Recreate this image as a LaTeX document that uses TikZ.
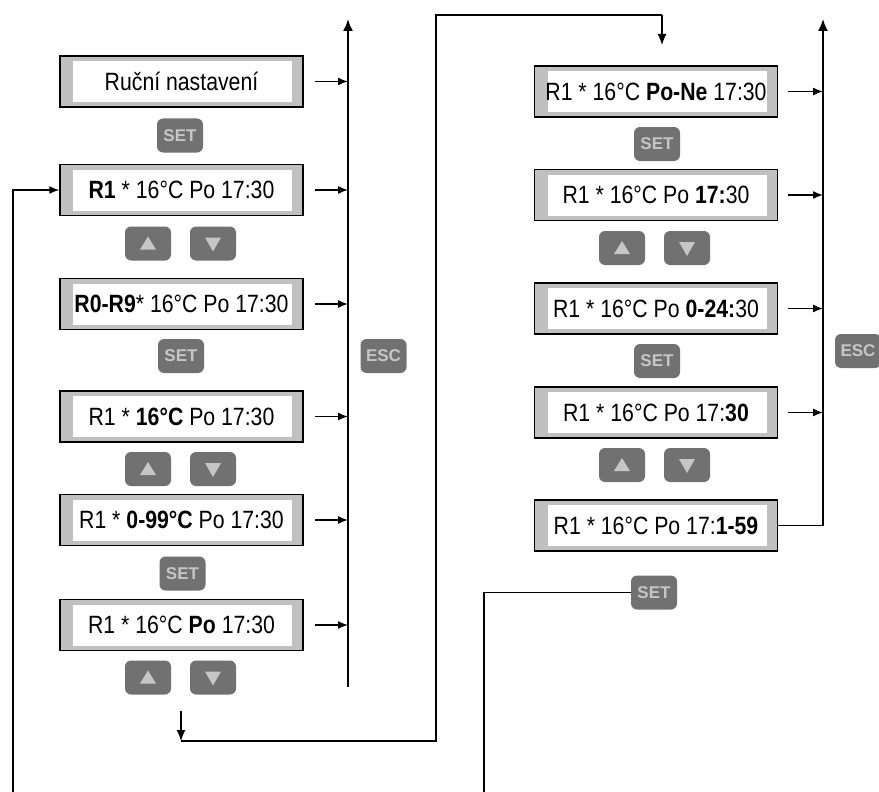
\documentclass[tikz,border=0pt]{standalone}
\usepackage{fontspec}
\setmainfont[FakeStretch=0.85]{Liberation Sans}
\newfontfamily\btnfont{Liberation Sans}
\usetikzlibrary{arrows.meta}
\definecolor{lcdgray}{HTML}{C0C0C0}
\definecolor{btnfill}{HTML}{717171}
\definecolor{btntext}{HTML}{C6C6C6}
\begin{document}
\begin{tikzpicture}[x=1pt,y=-1pt,
  lcd/.style={draw=black, line width=1.5pt, fill=lcdgray, minimum width=243pt,
    minimum height=51pt, inner sep=0pt, font=\fontsize{25}{30}\selectfont,
    path picture={\fill[white] ([xshift=13pt,yshift=-5pt]path picture bounding box.north west)
      rectangle ([xshift=-11pt,yshift=5pt]path picture bounding box.south east);}},
  btn/.style={fill=btnfill, rounded corners=6pt, minimum width=46pt, minimum height=34pt,
    inner sep=0pt, text=btntext, font=\btnfont\bfseries\fontsize{17}{20}\selectfont},
  btnup/.style={btn, path picture={\fill[btntext, sharp corners]
      ([xshift=-8pt,yshift=-6pt]path picture bounding box.center) --
      ([xshift=8pt,yshift=-6pt]path picture bounding box.center) --
      ([yshift=7pt]path picture bounding box.center) -- cycle;}},
  btndown/.style={btn, path picture={\fill[btntext, sharp corners]
      ([xshift=-8pt,yshift=6pt]path picture bounding box.center) --
      ([xshift=8pt,yshift=6pt]path picture bounding box.center) --
      ([yshift=-8pt]path picture bounding box.center) -- cycle;}},
  arr/.style={line width=1.4pt, -{Latex[length=10pt,width=8pt]}},
  escline/.style={line width=1.8pt, -{Latex[length=12pt,width=10pt]}},
  route/.style={line width=1.2pt},
  routearr/.style={line width=1.2pt, -{Latex[length=11pt,width=9pt]}}
]
\useasboundingbox (0,0) rectangle (879,792);

% left column
\node[lcd] (L0) at (181.5,81.5) {Ruční nastavení};
\node[btn] (S1) at (180,135.5) {SET};
\node[lcd] (L1) at (181.5,190) {\textbf{R1} * 16°C Po 17:30};
\node[btnup] (U1) at (148,243.5) {};
\node[btndown] (D1) at (213,243.5) {};
\node[lcd] (L2) at (181.5,304) {\textbf{R0-R9}* 16°C Po 17:30};
\node[btn] (S2) at (181,356) {SET};
\node[lcd] (L3) at (181.5,416.5) {R1 * \textbf{16°C} Po 17:30};
\node[btnup] (U2) at (148,469) {};
\node[btndown] (D2) at (213,469) {};
\node[lcd] (L4) at (181.5,520) {R1 * \textbf{0-99°C} Po 17:30};
\node[btn] (S3) at (182.5,573.5) {SET};
\node[lcd] (L5) at (181.5,625) {R1 * 16°C \textbf{Po} 17:30};
\node[btnup] (U3) at (148,677.5) {};
\node[btndown] (D3) at (213,677.5) {};
\node[btn] (E1) at (383.5,356) {ESC};

% right column
\node[lcd] (R0) at (656,91.5) {R1 * 16°C \textbf{Po-Ne} 17:30};
\node[btn] (S4) at (657,144) {SET};
\node[lcd] (R1) at (656,195) {R1 * 16°C Po \textbf{17:}30};
\node[btnup] (U4) at (622,248) {};
\node[btndown] (D4) at (687,248) {};
\node[lcd] (R2) at (656,308.5) {R1 * 16°C Po \textbf{0-24:}30};
\node[btn] (S5) at (657,361) {SET};
\node[lcd] (R3) at (656,412.5) {R1 * 16°C Po 17:\textbf{30}};
\node[btnup] (U5) at (622,465) {};
\node[btndown] (D5) at (687,465) {};
\node[lcd] (R4) at (656,525.5) {R1 * 16°C Po 17:\textbf{1-59}};
\node[btn] (S6) at (654,592.5) {SET};
\node[btn] (E2) at (858,351) {ESC};

% ESC lines
\coordinate (eLtop) at (348,19);
\coordinate (eLbot) at (348,687);
\coordinate (eRtop) at (823,19);
\draw[escline] (eLbot) -- (eLtop);
\foreach \b in {L0,L1,L2,L3,L4,L5}
  \draw[arr] ([xshift=11pt]\b.east) -- (\b.east -| eLtop);
\draw[escline] (R4.east) -- (R4.east -| eRtop) -- (eRtop);
\foreach \b in {R0,R1,R2,R3}
  \draw[arr] ([xshift=10pt]\b.east) -- (\b.east -| eRtop);

% loop back to R1
\coordinate (lb) at (13,792);
\draw[arr] (lb) |- (L1.west);

% from last SET down
\coordinate (rb) at (484,792);
\draw[route] (rb) |- (S6.west);

% transfer between columns
\coordinate (ta) at (181,711);
\coordinate (tb) at (181,741);
\coordinate (tc) at (436,741);
\coordinate (td) at (436,15);
\coordinate (te) at (662,15);
\coordinate (tf) at (662,45);
\draw[routearr] (ta) -- (tb);
\draw[route] (tb) -- (tc) -- (td) -- (te);
\draw[routearr] (te) -- (tf);
\end{tikzpicture}
\end{document}
